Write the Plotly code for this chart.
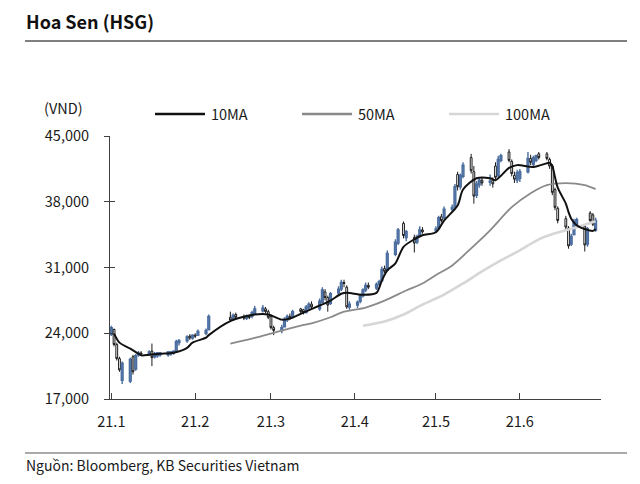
import plotly.graph_objects as go

# ---------------- data ----------------
dates = [
    "2021-01-04", "2021-01-05", "2021-01-06", "2021-01-07", "2021-01-08",
    "2021-01-11", "2021-01-12", "2021-01-13", "2021-01-14", "2021-01-15",
    "2021-01-18", "2021-01-19", "2021-01-20", "2021-01-21", "2021-01-22",
    "2021-01-25", "2021-01-26", "2021-01-27", "2021-01-28", "2021-01-29",
    "2021-02-01", "2021-02-02", "2021-02-03", "2021-02-04", "2021-02-05",
    "2021-02-08", "2021-02-09", "2021-02-17", "2021-02-18", "2021-02-19",
    "2021-02-22", "2021-02-23", "2021-02-24", "2021-02-25", "2021-02-26",
    "2021-03-01", "2021-03-02", "2021-03-03", "2021-03-04", "2021-03-05",
    "2021-03-08", "2021-03-09", "2021-03-10", "2021-03-11", "2021-03-12",
    "2021-03-15", "2021-03-16", "2021-03-17", "2021-03-18", "2021-03-19",
    "2021-03-22", "2021-03-23", "2021-03-24", "2021-03-25", "2021-03-26",
    "2021-03-29", "2021-03-30", "2021-03-31", "2021-04-01", "2021-04-02",
    "2021-04-05", "2021-04-06", "2021-04-07", "2021-04-08", "2021-04-09",
    "2021-04-12", "2021-04-13", "2021-04-14", "2021-04-15", "2021-04-16",
    "2021-04-19", "2021-04-20", "2021-04-22", "2021-04-23", "2021-04-26",
    "2021-04-27", "2021-04-28", "2021-04-29", "2021-05-04", "2021-05-05",
    "2021-05-06", "2021-05-07", "2021-05-10", "2021-05-11", "2021-05-12",
    "2021-05-13", "2021-05-14", "2021-05-17", "2021-05-18", "2021-05-19",
    "2021-05-20", "2021-05-21", "2021-05-24", "2021-05-25", "2021-05-26",
    "2021-05-27", "2021-05-28", "2021-05-31", "2021-06-01", "2021-06-02",
    "2021-06-03", "2021-06-04", "2021-06-07", "2021-06-08", "2021-06-09",
    "2021-06-10", "2021-06-11", "2021-06-14", "2021-06-15", "2021-06-16",
    "2021-06-17", "2021-06-18", "2021-06-21", "2021-06-22", "2021-06-23",
    "2021-06-24", "2021-06-25", "2021-06-28", "2021-06-29", "2021-06-30",
    "2021-07-01", "2021-07-02",
]
opens = [
    23900, 24400, 22800, 21300, 19000, 18900, 21500, 20200, 21700, 21900,
    21800, 22100, 21500, 21600, 21700, 21700, 21800, 21900, 22100, 23000,
    23200, 23700, 23500, 23800, 23800, 24000, 24400, 25700, 25500, 26000,
    25800, 25600, 25800, 25800, 26100, 26400, 26600, 26300, 25800, 24600,
    24300, 24700, 25400, 25800, 25700, 26600, 26500, 26200, 26700, 27100,
    26600, 27300, 28400, 27800, 27200, 28300, 28700, 29400, 28900, 26800,
    27000, 27400, 28000, 28600, 29100, 28800, 29200, 29600, 30900, 30700,
    32400, 33600, 35700, 34200, 34200, 33700, 34400, 35000, 34900, 35200,
    36400, 36300, 37200, 37500, 40900, 39600, 40700, 42700, 41200, 38700,
    39800, 40300, 40100, 40300, 41800, 40800, 42400, 43300, 42300, 40800,
    40300, 40500, 41200, 42600, 42000, 42400, 43100, 43100, 42500, 41800,
    39300, 37300, 36200, 35200, 33500, 34500, 35500, 35400, 33500, 36800,
    36600, 35000,
]
highs = [
    24800, 24500, 23000, 21500, 21000, 21400, 21700, 21800, 22100, 22100,
    22200, 22900, 22000, 22000, 22000, 22100, 22100, 22200, 23300, 23400,
    23800, 23900, 23900, 24000, 24400, 24500, 26000, 26300, 26100, 26200,
    26000, 26000, 26000, 26400, 26900, 27000, 26800, 26500, 25900, 24800,
    24900, 25700, 26000, 26100, 26500, 26700, 26600, 27000, 27300, 27400,
    27700, 28900, 28700, 28000, 28400, 29000, 29700, 29700, 29100, 27400,
    27500, 28200, 28800, 29400, 29400, 29400, 29700, 31100, 31200, 32800,
    34000, 35200, 35900, 35000, 34500, 34500, 35400, 35300, 35400, 36500,
    36700, 37500, 37700, 39900, 41200, 41000, 42200, 43100, 41800, 40200,
    40500, 40600, 40900, 40600, 42200, 42900, 43100, 43600, 42500, 41200,
    41400, 41500, 43300, 43000, 42900, 43000, 43300, 43300, 42700, 42000,
    39500, 37500, 36500, 35400, 34600, 36200, 36300, 35600, 35300, 37000,
    36800, 36300,
]
lows = [
    23700, 22600, 21100, 19900, 18600, 18700, 19600, 20000, 21500, 21600,
    21600, 20500, 21300, 21400, 21500, 21500, 21600, 21700, 22000, 22700,
    23000, 23300, 23300, 23500, 23700, 23800, 24300, 25200, 25300, 25500,
    25400, 25400, 25500, 25600, 26000, 26200, 26100, 25500, 24400, 23800,
    24000, 24600, 25200, 25400, 25600, 26100, 26000, 26100, 26500, 26600,
    26400, 27200, 27500, 26300, 27000, 28000, 28500, 28900, 26600, 26500,
    26700, 27200, 27800, 28400, 28700, 28600, 29000, 29500, 30400, 30600,
    32200, 33400, 34100, 33800, 32600, 33500, 34200, 34600, 34700, 35000,
    35800, 36100, 36900, 37300, 39200, 39300, 40500, 41000, 37800, 38400,
    39500, 39700, 39700, 39500, 40400, 40600, 42200, 42200, 40700, 40000,
    40000, 40100, 41000, 41900, 41800, 42200, 42500, 42400, 41500, 38700,
    37100, 35700, 35000, 33000, 33300, 34400, 35300, 32700, 33200, 35800,
    35400, 34800,
]
closes = [
    24600, 22800, 21300, 20100, 20800, 21200, 19900, 21600, 21900, 21800,
    22000, 21400, 21800, 21900, 21900, 22000, 22000, 22100, 23100, 23200,
    23600, 23500, 23800, 23700, 24200, 24300, 25800, 25400, 25900, 25700,
    25600, 25800, 25700, 26200, 26600, 26700, 26300, 25700, 24600, 24300,
    24600, 25500, 25800, 25600, 26300, 26300, 26200, 26800, 27100, 26800,
    27400, 28600, 27800, 27000, 28200, 28700, 29400, 29300, 26800, 27100,
    27300, 28000, 28600, 29100, 28900, 29200, 29500, 30800, 30600, 32500,
    33700, 35000, 34400, 34800, 33600, 34300, 35000, 34800, 35100, 36300,
    36000, 37200, 37400, 39600, 39600, 40800, 41900, 41300, 38600, 39900,
    40300, 40000, 40200, 39900, 40600, 42500, 42900, 42400, 41000, 40400,
    41100, 41200, 42600, 42200, 42700, 42900, 42700, 42600, 41800, 39000,
    37400, 36000, 35300, 33300, 34300, 35900, 36100, 33400, 35100, 36000,
    35600, 36000,
]

ma10_dates = [
    "2021-01-05", "2021-01-07", "2021-01-11", "2021-01-14", "2021-01-15",
    "2021-01-18", "2021-01-22", "2021-01-27", "2021-02-01", "2021-02-03",
    "2021-02-08", "2021-02-09", "2021-02-17", "2021-02-26", "2021-03-03",
    "2021-03-08", "2021-03-11", "2021-03-16", "2021-03-22", "2021-03-26",
    "2021-03-30", "2021-04-01", "2021-04-05", "2021-04-07", "2021-04-12",
    "2021-04-14", "2021-04-16", "2021-04-19", "2021-04-22", "2021-04-26",
    "2021-04-29", "2021-05-04", "2021-05-07", "2021-05-12", "2021-05-14",
    "2021-05-19", "2021-05-24", "2021-05-26", "2021-05-31", "2021-06-03",
    "2021-06-09", "2021-06-14", "2021-06-15", "2021-06-16", "2021-06-17",
    "2021-06-18", "2021-06-21", "2021-06-22", "2021-06-23", "2021-06-25",
    "2021-06-28", "2021-07-01", "2021-07-02",
]
ma10_vals = [
    23960, 23000, 22360, 21820, 21650, 21700, 21820, 21930, 22450, 23000,
    23530, 23800, 25300, 26000, 26000, 25450, 25560, 26200, 26950, 27480,
    28200, 28300, 28150, 28100, 28300, 29620, 30690, 31440, 33200, 34000,
    34430, 34750, 36000, 37600, 39300, 40500, 40500, 40300, 41600, 41900,
    41700, 42100, 42150, 41800, 40600, 39500, 37800, 36900, 36200, 35500,
    35100, 34900, 35100,
]

ma50_dates = [
    "2021-02-17", "2021-02-26", "2021-03-05", "2021-03-15", "2021-03-19",
    "2021-03-26", "2021-03-31", "2021-04-08", "2021-04-15", "2021-04-23",
    "2021-04-29", "2021-05-04", "2021-05-10", "2021-05-17", "2021-05-24",
    "2021-06-01", "2021-06-08", "2021-06-14", "2021-06-21", "2021-06-28",
    "2021-07-02",
]
ma50_vals = [
    22900, 23500, 24050, 24800, 25050, 25700, 26300, 26740, 27480, 28550,
    29300, 30200, 31220, 33040, 34960, 37420, 38910, 39770, 39980, 39770,
    39340,
]

ma100_dates = [
    "2021-04-07", "2021-04-15", "2021-04-22", "2021-04-29", "2021-05-07",
    "2021-05-14", "2021-05-21", "2021-05-28", "2021-06-04", "2021-06-11",
    "2021-06-17", "2021-06-25", "2021-07-02",
]
ma100_vals = [
    24800, 25240, 25990, 27050, 28120, 29300, 30580, 31750, 32830, 34000,
    34640, 35280, 35920,
]

month_ticks = ["2021-01-04", "2021-02-04", "2021-03-04", "2021-04-04",
               "2021-05-04", "2021-06-04", "2021-07-04"]
month_labels = ["21.1", "21.2", "21.3", "21.4", "21.5", "21.6", ""]
y_ticks = [17000, 24000, 31000, 38000, 45000]

title_text = "<b>Hoa Sen (HSG)</b>"
unit_text = "(VND)"
source_text = "Nguồn: Bloomberg, KB Securities Vietnam"
legend_names = ["10MA", "50MA", "100MA"]

# ---------------- layout helpers ----------------
# page pixel targets; the page body adds an 8px offset around the figure
OFF = 8
W, H = 640 - 2 * OFF, 484 - 2 * OFF
L, R, T, B = 110, 601, 136, 399          # plot area in page pixels
FONT = "Noto Sans CJK KR"
TXT = "#1a1a1a"
AX = "#404040"


def px(x):
    return (x - L) / (R - L)


def py(y):
    return (B - y) / (B - T)


fig = go.Figure()

fig.add_trace(go.Candlestick(
    x=dates, open=opens, high=highs, low=lows, close=closes,
    increasing=dict(line=dict(color="#4b6d9e", width=1.4), fillcolor="#6285b5"),
    decreasing=dict(line=dict(color="#1a1a1a", width=1.0), fillcolor="#ffffff"),
    whiskerwidth=0, showlegend=False, hoverinfo="skip",
))

ma_colors = ["#111111", "#8a8a8a", "#d6d6d6"]
ma_widths = [2.0, 1.8, 2.6]
for d, v, c, w in [(ma100_dates, ma100_vals, ma_colors[2], ma_widths[2]),
                   (ma50_dates, ma50_vals, ma_colors[1], ma_widths[1]),
                   (ma10_dates, ma10_vals, ma_colors[0], ma_widths[0])]:
    fig.add_trace(go.Scatter(
        x=d, y=v, mode="lines",
        line=dict(color=c, width=w, shape="spline", smoothing=0.8),
        showlegend=False, hoverinfo="skip",
    ))

# invisible trace for the overlay axis that draws the inner half of y ticks
fig.add_trace(go.Scatter(x=[], y=[], yaxis="y2", showlegend=False))

shapes = [
    dict(type="line", xref="paper", yref="paper", x0=px(25), x1=px(627),
         y0=py(41), y1=py(41), line=dict(color="#555555", width=1.5)),
    dict(type="line", xref="paper", yref="paper", x0=px(25), x1=px(627),
         y0=py(453), y1=py(453), line=dict(color="#555555", width=1.2)),
]
annotations = [
    dict(text=title_text, xref="paper", yref="paper", x=px(24), y=py(21),
         xanchor="left", yanchor="middle", showarrow=False,
         font=dict(family=FONT, size=18, color="#111111")),
    dict(text=unit_text, xref="paper", yref="paper", x=px(63), y=py(107),
         xanchor="center", yanchor="middle", showarrow=False,
         font=dict(family=FONT, size=14.5, color=TXT)),
    dict(text=source_text, xref="paper", yref="paper", x=px(24), y=py(465),
         xanchor="left", yanchor="middle", showarrow=False,
         font=dict(family=FONT, size=14, color=TXT)),
]
leg_x = [155, 302, 449]
for name, x0, c in zip(legend_names, leg_x, ma_colors):
    shapes.append(dict(type="line", xref="paper", yref="paper",
                       x0=px(x0), x1=px(x0 + 50), y0=py(114), y1=py(114),
                       line=dict(color=c, width=2.4)))
    annotations.append(dict(text=name, xref="paper", yref="paper",
                            x=px(x0 + 54), y=py(114), xanchor="left",
                            yanchor="middle", showarrow=False,
                            font=dict(family=FONT, size=14.5, color=TXT)))

fig.update_layout(
    width=W, height=H, autosize=False,
    margin=dict(l=L - OFF, r=W - (R - OFF), t=T - OFF, b=H - (B - OFF), pad=0),
    paper_bgcolor="white", plot_bgcolor="white",
    font=dict(family=FONT, size=14.5, color=TXT),
    showlegend=False, boxgap=0.05,
    shapes=shapes, annotations=annotations,
    xaxis=dict(
        type="date", range=["2021-01-03 12:00", "2021-07-04"],
        tickvals=month_ticks, ticktext=month_labels,
        ticks="inside", ticklen=6, tickcolor=AX, tickwidth=1,
        showline=True, linecolor=AX, linewidth=1,
        showgrid=False, zeroline=False, rangeslider=dict(visible=False),
        tickfont=dict(family=FONT, size=14.5, color=TXT),
        ticklabelstandoff=10,
    ),
    yaxis=dict(
        range=[17000, 45000], tickvals=y_ticks, tickformat=",d",
        ticks="outside", ticklen=5, tickcolor=AX, tickwidth=1,
        showline=True, linecolor=AX, linewidth=1,
        showgrid=False, zeroline=False,
        tickfont=dict(family=FONT, size=14.5, color=TXT),
        ticklabelstandoff=12,
    ),
    yaxis2=dict(
        overlaying="y", side="left", anchor="x",
        range=[17000, 45000], tickvals=y_ticks,
        ticks="inside", ticklen=5, tickcolor=AX, tickwidth=1,
        showticklabels=False, showline=False, showgrid=False, zeroline=False,
    ),
)

fig.write_html("out.html")
